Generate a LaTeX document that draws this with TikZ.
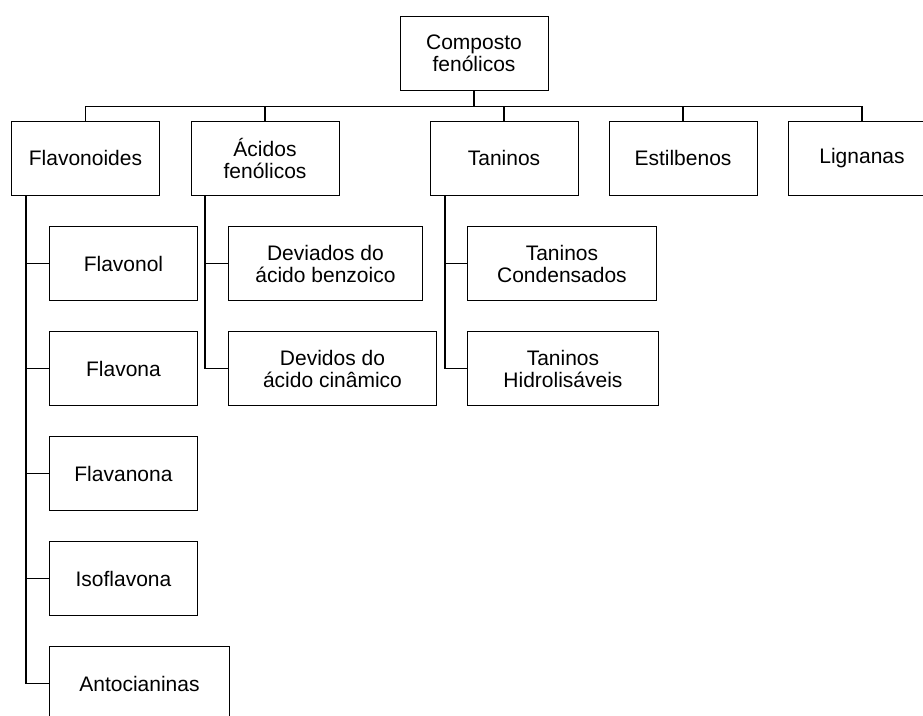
\documentclass[tikz,border=0pt]{standalone}
\usepackage{fontspec}
\setmainfont{Liberation Sans}
\begin{document}
\begin{tikzpicture}[
		base/.style={draw, line width=0.9pt, minimum width=148pt, minimum height=74pt,
			align=center, font=\fontsize{21pt}{22pt}\selectfont},
		sub/.style={base, anchor=west},
		link/.style={draw, line width=1.8pt}
	]
	\useasboundingbox (0pt,0pt) rectangle (923pt,-715pt);
	\clip (0pt,0pt) rectangle (923pt,-715pt);

	\node[base] at (474pt, -53pt) (top) {Composto\\fenólicos};

	\node[base] at (85.5pt, -158pt) (flav) {Flavonoides};
	\node[base] at (265pt, -158pt) (acid) {Ácidos\\fenólicos};
	\node[base] at (504pt, -158pt) (tan) {Taninos};
	\node[base] at (683pt, -158pt) (esti) {Estilbenos};
	\node[base] at (862pt, -158pt) (lign) {Lignanas};

	\node[sub] at (49pt, -263.5pt) (flavonol) {Flavonol};
	\node[sub] at (49pt, -368.5pt) (flavona) {Flavona};
	\node[sub] at (49pt, -473.5pt) (flavanona) {Flavanona};
	\node[sub] at (49pt, -578.5pt) (isoflavona) {Isoflavona};
	\node[sub, minimum width=180pt] at (49pt, -683.5pt) (antoc) {Antocianinas};

	\node[sub, minimum width=194pt] at (228pt, -263.5pt) (benz) {Deviados do\\ácido benzoico};
	\node[sub, minimum width=208pt] at (228pt, -368.5pt) (cinam) {Devidos do\\ácido cinâmico};

	\node[sub, minimum width=189pt] at (467pt, -263.5pt) (cond) {Taninos\\Condensados};
	\node[sub, minimum width=191pt] at (467pt, -368.5pt) (hidr) {Taninos\\Hidrolisáveis};

	\coordinate (bus) at ([yshift=-16pt]top.south);
	\draw[link] (top.south) -- (bus);
	\foreach \c in {flav,acid,tan,esti,lign}
		\draw[link] (bus) -| (\c.north);

	\foreach \c in {flavonol,flavona,flavanona,isoflavona,antoc}
		\draw[link] ([xshift=-59.5pt]flav.south) |- (\c.west);
	\foreach \c in {benz,cinam}
		\draw[link] ([xshift=-60pt]acid.south) |- (\c.west);
	\foreach \c in {cond,hidr}
		\draw[link] ([xshift=-59pt]tan.south) |- (\c.west);

\end{tikzpicture}
\end{document}
